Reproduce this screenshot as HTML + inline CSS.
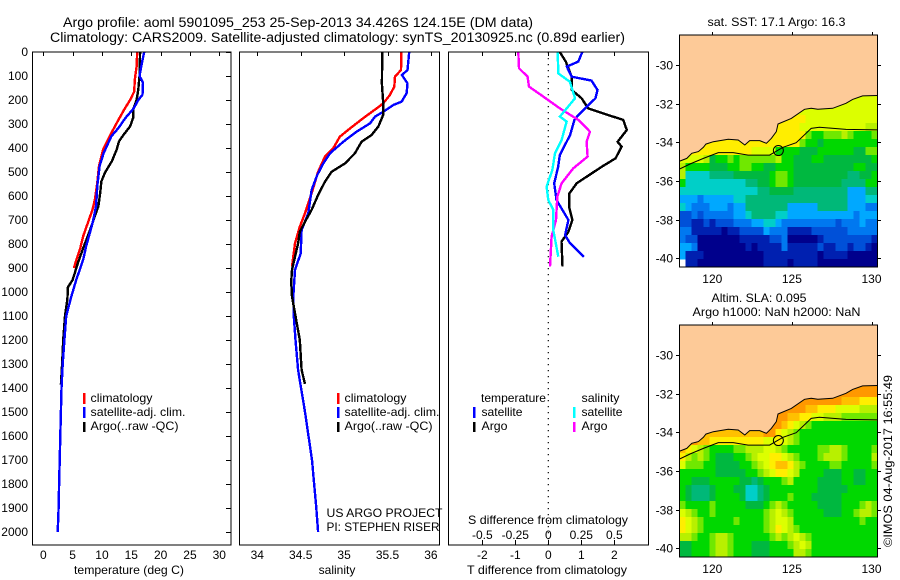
<!DOCTYPE html>
<html lang="en">
<head>
<meta charset="utf-8">
<title>Argo profile 5901095_253</title>
<style>
html,body{margin:0;padding:0;background:#fff;width:900px;height:580px;overflow:hidden}
svg{display:block}
text{font-family:"Liberation Sans",sans-serif;font-size:12px;fill:#000}
.ttl{font-size:13.5px}
</style>
</head>
<body>
<svg id="fig" width="900" height="580" viewBox="0 0 900 580" xmlns="http://www.w3.org/2000/svg">
  <defs>
    <clipPath id="clipTop"><rect x="679.5" y="35" width="198" height="232"/></clipPath>
    <clipPath id="clipBot"><rect x="679.5" y="325" width="198" height="232"/></clipPath>
  </defs>
  <text class="ttl" x="63" y="27" textLength="470" lengthAdjust="spacingAndGlyphs">Argo profile: aoml 5901095_253 25-Sep-2013 34.426S 124.15E (DM data)</text>
  <text class="ttl" x="50" y="42" textLength="575" lengthAdjust="spacingAndGlyphs">Climatology: CARS2009. Satellite-adjusted climatology: synTS_20130925.nc (0.89d earlier)</text>

  <g id="temp"></g>
  <g id="sal"></g>
  <g id="diff"></g>
  <g id="mapA"></g>
  <g id="mapB"></g>

  <rect x="32.5" y="52" width="198.5" height="493" fill="none" stroke="#000" stroke-width="1"/>
  <rect x="239.5" y="52" width="200" height="493" fill="none" stroke="#000" stroke-width="1"/>
  <rect x="448.5" y="52" width="200" height="493" fill="none" stroke="#000" stroke-width="1"/>
  <rect x="679.5" y="35" width="198" height="232" fill="none" stroke="#000" stroke-width="1"/>
  <rect x="679.5" y="325" width="198" height="232" fill="none" stroke="#000" stroke-width="1"/>

  <text x="129" y="574" text-anchor="middle" textLength="110" lengthAdjust="spacingAndGlyphs">temperature (deg C)</text>
  <text x="337" y="574" text-anchor="middle">salinity</text>
  <text x="547" y="574" text-anchor="middle" textLength="160" lengthAdjust="spacingAndGlyphs">T difference from climatology</text>
  <text x="548" y="524" text-anchor="middle" textLength="160" lengthAdjust="spacingAndGlyphs">S difference from climatology</text>

  <g>
    <rect x="83" y="393" width="2.5" height="11" fill="#ff0000"/>
    <rect x="83" y="407" width="2.5" height="11" fill="#0000ff"/>
    <rect x="83" y="422" width="2.5" height="10" fill="#000"/>
    <text x="90.5" y="402" textLength="62" lengthAdjust="spacingAndGlyphs">climatology</text>
    <text x="90.5" y="416" textLength="95" lengthAdjust="spacingAndGlyphs">satellite-adj. clim.</text>
    <text x="90.5" y="430" textLength="88" lengthAdjust="spacingAndGlyphs">Argo(..raw -QC)</text>
  </g>
  <g>
    <rect x="337" y="393" width="2.5" height="11" fill="#ff0000"/>
    <rect x="337" y="407" width="2.5" height="11" fill="#0000ff"/>
    <rect x="337" y="422" width="2.5" height="10" fill="#000"/>
    <text x="344.5" y="402" textLength="62" lengthAdjust="spacingAndGlyphs">climatology</text>
    <text x="344.5" y="416" textLength="95" lengthAdjust="spacingAndGlyphs">satellite-adj. clim.</text>
    <text x="344.5" y="430" textLength="88" lengthAdjust="spacingAndGlyphs">Argo(..raw -QC)</text>
  </g>
  <text x="326.5" y="517" textLength="116" lengthAdjust="spacingAndGlyphs">US ARGO PROJECT</text>
  <text x="326.5" y="531" textLength="113" lengthAdjust="spacingAndGlyphs">PI: STEPHEN RISER</text>
  <g>
    <text x="481" y="402" textLength="65" lengthAdjust="spacingAndGlyphs">temperature</text>
    <text x="581.5" y="402" textLength="38" lengthAdjust="spacingAndGlyphs">salinity</text>
    <rect x="473" y="407" width="2.5" height="11" fill="#0000ff"/>
    <rect x="473" y="422" width="2.5" height="10" fill="#000"/>
    <rect x="573" y="407" width="2.5" height="11" fill="#00ffff"/>
    <rect x="573" y="422" width="2.5" height="10" fill="#ff00ff"/>
    <text x="481.5" y="416" textLength="41" lengthAdjust="spacingAndGlyphs">satellite</text>
    <text x="481.5" y="430" textLength="26" lengthAdjust="spacingAndGlyphs">Argo</text>
    <text x="581.5" y="416" textLength="41" lengthAdjust="spacingAndGlyphs">satellite</text>
    <text x="581.5" y="430" textLength="26" lengthAdjust="spacingAndGlyphs">Argo</text>
  </g>

  <text x="707.5" y="26" textLength="138" lengthAdjust="spacingAndGlyphs">sat. SST: 17.1 Argo: 16.3</text>
  <text x="711.5" y="302" textLength="95" lengthAdjust="spacingAndGlyphs">Altim. SLA: 0.095</text>
  <text x="692.5" y="316" textLength="168" lengthAdjust="spacingAndGlyphs">Argo h1000: NaN h2000: NaN</text>
  <text transform="translate(892,547) rotate(-90)" textLength="172" lengthAdjust="spacingAndGlyphs">©IMOS 04-Aug-2017 16:55:49</text>
</svg>

<script>
/* ---------- profile data (depth in m, value in deg C / psu / differences) ---------- */
var depthTicks = [0,100,200,300,400,500,600,700,800,900,1000,1100,1200,1300,1400,1500,1600,1700,1800,1900,2000];
var tempTicks = [0,5,10,15,20,25,30];
var salTicks = [34,34.5,35,35.5,36];
var tDiffTicks = [-2,-1,0,1,2];
var sDiffTicks = [-0.5,-0.25,0,0.25,0.5];
var sDiffLabels = ['-0.5','-0.25','0','0.25','0.5'];
var latTicks = [-30,-32,-34,-36,-38,-40];
var lonTicks = [120,125,130];

var tempClimDepth = [0,60,115,165,200,235,283,337,406,475,544,614,656,704,767,817,900];
var tempClimValue = [16.0,15.9,15.6,15.5,14.8,13.9,12.8,11.6,10.2,9.5,9.2,8.8,8.4,7.7,6.8,6.3,5.2];
var tempSatDepth = [0,46,100,128,178,200,235,275,317,351,421,475,558,642,712,810,865,950,1025,1100,1200,1300,1400,1500,1600,1700,1800,1900,2000];
var tempSatValue = [17.2,16.8,16.4,17.0,16.9,16.2,15.4,14.0,12.8,11.6,10.3,9.6,9.2,9.0,8.4,7.3,6.8,5.6,4.7,3.9,3.6,3.3,3.1,3.0,2.9,2.8,2.7,2.6,2.45];
var tempArgoDepth = [0,100,157,200,240,275,310,344,372,407,455,503,539,587,642,683,740,817,879,950,980,1030,1100,1200,1300,1385];
var tempArgoValue = [16.5,16.4,16.2,15.9,15.3,15.3,14.8,13.7,12.9,12.5,11.7,10.5,9.9,9.7,9.4,8.8,8.0,6.8,5.9,5.0,4.2,4.1,3.7,3.4,3.2,3.0];

var salClimDepth = [0,75,103,144,179,214,235,276,318,353,401,436,499,589,672,728,797,894];
var salClimValue = [35.66,35.655,35.586,35.578,35.528,35.45,35.375,35.22,35.07,34.95,34.875,34.78,34.70,34.626,34.55,34.49,34.434,34.40];
var salSatDepth = [0,75,96,131,172,207,221,249,269,297,332,374,422,464,513,575,672,742,839,908,1019,1100,1200,1325,1500,1700,1900,2000];
var salSatValue = [35.75,35.73,35.667,35.73,35.72,35.663,35.567,35.45,35.356,35.30,35.144,34.99,34.837,34.76,34.69,34.626,34.587,34.51,34.5,34.434,34.415,34.42,34.44,34.47,34.55,34.63,34.68,34.70];
var salArgoDepth = [0,131,214,262,311,346,374,422,464,499,540,596,658,707,749,797,853,908,957,1019,1100,1200,1325,1383];
var salArgoValue = [35.44,35.436,35.45,35.45,35.394,35.317,35.20,35.125,35.01,34.856,34.78,34.70,34.626,34.55,34.49,34.47,34.434,34.40,34.39,34.40,34.44,34.49,34.51,34.55];

var dtSatDepth = [0,40,61,103,119,158,193,228,263,283,346,429,478,547,617,700,763,797,853];
var dtSatValue = [1.03,0.91,0.56,0.71,1.31,1.49,1.43,1.16,0.91,0.79,0.66,0.35,0.30,0.18,0.25,0.61,0.51,0.66,1.08];
var dtArgoDepth = [0,40,103,158,193,235,263,283,325,374,394,443,478,547,589,651,700,749,790,894];
var dtArgoValue = [0.35,0.53,0.71,0.71,1.01,1.21,1.82,2.27,2.38,2.10,2.22,2.04,1.62,0.86,0.64,0.64,0.73,0.61,0.40,0.43];
var dsArgoDepth = [0,68,103,144,186,235,283,332,374,436,485,547,603,700,769,894];
var dsArgoValue = [-0.227,-0.222,-0.157,-0.146,-0.038,0.088,0.227,0.316,0.290,0.298,0.189,0.101,0.068,0.058,0.025,0.013];
var dsSatDepth = [0,89,124,193,269,290,367,422,492,561,617,658,742,853];
var dsSatValue = [0.071,0.076,0.164,0.202,0.088,0.139,0.101,0.051,0.03,-0.013,0,0.038,0.038,0.076];

/* ---------- map data ---------- */
var coastLon = [117.7,118.4,118.71,119.13,119.44,119.6,120.06,121.0,121.63,122.04,122.35,122.98,123.4,123.71,124.02,124.13,124.96,125.79,126.21,126.63,127.56,128.4,128.81,129.44,130.7];
var coastLat = [-35.05,-34.83,-34.57,-34.48,-34.26,-34.09,-33.97,-33.84,-33.88,-34.14,-33.91,-33.91,-34.05,-33.79,-33.45,-33.05,-32.76,-32.29,-32.24,-32.29,-32.24,-31.98,-31.78,-31.6,-31.57];
var shelfLon = [117.7,118.6,119.44,120.38,121.31,122.25,123.6,124.44,125.27,126.21,126.73,128.4,130.7];
var shelfLat = [-35.48,-35.12,-34.83,-34.53,-34.53,-34.66,-34.66,-34.26,-34.02,-33.28,-33.22,-33.33,-33.36];
var floatLon = [124.15];
var floatLat = [-34.426];

/* level letters index the colour scale; '.' is a missing cell; spaces only group runs */
var colorScale = {'0':'#00008c','1':'#0020b0','2':'#0050d8','3':'#0078f0','4':'#00a8ff','5':'#00cfc8','6':'#00b878','7':'#00b840','8':'#00d800','9':'#70e800','a':'#b8f000','b':'#dcff00','c':'#ffee00','d':'#ffc000','e':'#ff9800'};

var sstRows = [
'bbbbbbbbbbbbbbbbbbbbbbbbbbbbbbbbb','bbbbbbbbbbbbbbbbbbbbbbbbbbbbbbbbb','bbbbbbbbbbbbbbbbbbbbbbbbbbbbbbbbb','bbbbbbbbbbbbbbbbbbbbbbbbbbbbbbbbb',
'bbbbbbbbbbbbbbbbbbbbbbbbbbbbbbbbb','bbbbbbbbbbbbbbbbbbbbbbbbbbbbbbbbb','bbbbbbbbbbbbbbbbbbbbbbbbbbbbbbbbb','bbbbbbbbbbbbbbbbbbbbbbbbbbbbbbbbb',
'bbbbbbbbbbbbbbbbbbbbbbbbbbbbbbbbb','bbbbbbbbbbbbbbbbbbbbbbbbbbbbbbbbb',
'ccccccccccccccccccccc bbbbbbbbbbbb',
'cccccccccccccccccccc bbbbbbbbbbbaa',
'ccccccccccccccccccccc 988999a98889',
'cccccccccccccccccccc 9 887888888888',
'bccccccccccc bb bb 888 8777888888 77 99',
'bbbb a 7 88 9 8 999999 a 88 777 88 77777777 8',
'a 8888 777 88 99 88 77 888 7777777777 88 77',
'a 5555 6666 777777 8 99 8 777777777 66 77 8',
'8 55555 55555 6 6 77 8 99 8 77777777 6666 88',
'5555555555555 66 7777 666666666 444 66',
'444 3 44444 55 66666666666666666 444 55',
'5 4 333 444 3 44 6666666 44444 66666 444 33',
'22 3 2 33333 44 5 6666 55 44444444444 3 444',
'22 11 2 1 222 333 44 55 4 333333333 2 333 4 33',
'33 11111 0 11 2222 4 333 1111 222222 33333',
'3 22 0000000 11111 22 3 00000 1 22222222 1',
'44 3 00000000 1 0 1111 3 11111 2 11 22 1 22 1 0',
'4 111 0000000000 111111111 0 1111 00000',
'. 11 00000000000 1111 0 1111 0000000000'
];

var slaRows = [
'eeeeeeeeeeeeeeeeeeeeeeeeeeeeeeeee','eeeeeeeeeeeeeeeeeeeeeeeeeeeeeeeee','eeeeeeeeeeeeeeeeeeeeeeeeeeeeeeeee','eeeeeeeeeeeeeeeeeeeeeeeeeeeeeeeee',
'eeeeeeeeeeeeeeeeeeeeeeeeeeeeeeeee','eeeeeeeeeeeeeeeeeeeeeeeeeeeeeeeee','eeeeeeeeeeeeeeeeeeeeeeeeeeeeeeeee','eeeeeeeeeeeeeeeeeeeeeeeeeeeeeeeee',
'eeeeeeeeeeeeeeeeeeeeeeeeeeeeeeeee',
'eeeeeeeeeeeeeeeeeeeeeeeeeee ddd ccc',
'eeeeeeeeeeeeeeeeeeeee dd ccc b bbb aaa',
'eeeeeeeeeeeeeeeee e dd cc bb aaa 999999',
'eeeeeeeeeeeeeeeee d c b a 9 88888888888',
'eeee dddddddddd ee c b a 9 8888888888888',
'eee dd ccccccccc bb c b a 9 8888888888888',
'd c b a 9 8888 99 aaa bb a 9 88888 99 aa 9 8888 9',
'c a 9 a 9 8 777 88 9 a bb cc b a 9 888 9 aaa 9 8888 a',
'b 999 88 7777 88 9 a b c dd c a 9 8888 99 88888 9',
'888888 77777 88 9 a b cc b a 8888 777 88 77 88',
'88 777 88888 77 6 7 888 9 a 8888 7777 88 77 88',
'8 7 666 7 888 77 55 6 7 88888888 77777 88888',
'8 7 666 7 8888 7 55 6 7 888 9 888 77777 888888',
'9 8888 9 88888 777 8 9 a 9 88888 7777 888 9 a 9',
'b a 9 88 9 88888888 9 a b a 9 88888 777 88 9 aa 9',
'c b a 9 88888 9 8888 9 a bb a 88888888888 9 88',
'c b a 9 8888888888 9 a c b a 9 8888888888888',
'a a 9 88 9 a a 9 888888 9 a 9 a b a 9 88888888888',
'77 888 9 aa 9 888 777 888 9 a b a 88888888888',
'77 888 9 aa 9 888 777 8888 aa 9 88888888888'
];

/* ---------- axis functions ---------- */
var PROFILE_TOP = 52, PROFILE_SCALE = 0.24;
function depthY(d){ return PROFILE_TOP + d*PROFILE_SCALE; }
function tempX(t){ return 43.3 + t*5.867; }
function salX(s){ return 257.3 + (s-34)*86.8; }
function tDiffX(t){ return 548.3 + t*33; }
function sDiffX(s){ return 548.3 + s*132; }
function lonX(lon){ return 712.3 + (lon-120)*15.92; }
function latY(lat,y30){ return y30 + (-30-lat)*19.33; }

var NS = 'http://www.w3.org/2000/svg';
function make(tag,attrs,parent,txt){
  var n = document.createElementNS(NS,tag);
  for (var k in attrs) n.setAttribute(k,attrs[k]);
  if (txt !== undefined) n.textContent = txt;
  parent.appendChild(n);
  return n;
}
function profile(parent,name,xs,ys,xf,color){
  var pts = [];
  for (var i=0;i<xs.length;i++) pts.push(xf(xs[i]).toFixed(1)+','+depthY(ys[i]).toFixed(1));
  var l = make('polyline',{points:pts.join(' '),fill:'none',stroke:color,'stroke-width':2.4,'stroke-linejoin':'miter','shape-rendering':'crispEdges'},parent);
  
  
}
function tick(parent,x1,y1,x2,y2){
  var t = make('line',{x1:x1,y1:y1,x2:x2,y2:y2,stroke:'#000','stroke-width':1,'shape-rendering':'crispEdges'},parent);
  
  
}
function label(parent,x,y,anchor,s){
  var t = make('text',{x:x,y:y,'text-anchor':anchor},parent,s);
  
  
}

/* temperature panel */
var gT = document.getElementById('temp');
depthTicks.forEach(function(d){
  tick(gT,226,Math.round(depthY(d))+.5,231,Math.round(depthY(d))+.5);
  label(gT,28,depthY(d)+4,'end',String(d));
});
tempTicks.forEach(function(t){
  tick(gT,Math.round(tempX(t))+.5,52,Math.round(tempX(t))+.5,56);
  label(gT,tempX(t),559,'middle',String(t));
});
profile(gT,'temperature-climatology-line',tempClimValue,tempClimDepth,tempX,'#ff0000');
profile(gT,'temperature-argo-line',tempArgoValue,tempArgoDepth,tempX,'#000000');
profile(gT,'temperature-satellite-line',tempSatValue,tempSatDepth,tempX,'#0000ff');

/* salinity panel */
var gS = document.getElementById('sal');
salTicks.forEach(function(s){
  tick(gS,Math.round(salX(s))+.5,52,Math.round(salX(s))+.5,56);
  label(gS,salX(s),559,'middle',String(s));
});
profile(gS,'salinity-climatology-line',salClimValue,salClimDepth,salX,'#ff0000');
profile(gS,'salinity-satellite-line',salSatValue,salSatDepth,salX,'#0000ff');
profile(gS,'salinity-argo-line',salArgoValue,salArgoDepth,salX,'#000000');

/* difference panel */
var gD = document.getElementById('diff');
var zeroLine = make('line',{x1:tDiffX(0),y1:52,x2:tDiffX(0),y2:545,stroke:'#000','stroke-width':1.2,'stroke-dasharray':'1.2 4.8'},gD);


tDiffTicks.forEach(function(t){
  var x = Math.round(tDiffX(t))+.5;
  tick(gD,x,52,x,56);
  tick(gD,x,540,x,545);
  label(gD,tDiffX(t),559,'middle',String(t));
});
sDiffTicks.forEach(function(s,i){
  label(gD,sDiffX(s),539,'middle',sDiffLabels[i]);
});
profile(gD,'t-diff-argo-line',dtArgoValue,dtArgoDepth,tDiffX,'#000000');
profile(gD,'t-diff-satellite-line',dtSatValue,dtSatDepth,tDiffX,'#0000ff');
profile(gD,'s-diff-argo-line',dsArgoValue,dsArgoDepth,sDiffX,'#ff00ff');
profile(gD,'s-diff-satellite-line',dsSatValue,dsSatDepth,sDiffX,'#00ffff');

/* maps */
function drawMap(id,rows,top,y30,clipId){
  var g = document.getElementById(id);
  var bg = make('rect',{x:679.5,y:top,width:198,height:232,fill:'#fff'},g);
  
  
  var CW = 198/33, CH = 232/29;
  rows.forEach(function(raw,r){
    var row = raw.replace(/ /g,'');
    for (var c=0;c<33;c++){
      var ch = row.charAt(c) || row.charAt(row.length-1);
      if (ch === '.') continue;
      var cell = make('rect',{x:679.5+c*CW,y:top+r*CH,width:CW+.3,height:CH+.3,fill:colorScale[ch],'shape-rendering':'crispEdges'},g);
      
      
    }
  });
  var cg = make('g',{'clip-path':'url(#'+clipId+')'},g);
  var landPts = [lonX(coastLon[0]).toFixed(1)+','+(top-5)];
  var coastPts = [];
  for (var i=0;i<coastLon.length;i++){
    var p = lonX(coastLon[i]).toFixed(1)+','+latY(coastLat[i],y30).toFixed(1);
    landPts.push(p); coastPts.push(p);
  }
  landPts.push(lonX(coastLon[coastLon.length-1]).toFixed(1)+','+(top-5));
  var land = make('polygon',{points:landPts.join(' '),fill:'#fdca98'},cg);
  
  
  var cl = make('polyline',{points:coastPts.join(' '),fill:'none',stroke:'#000','stroke-width':1},cg);
  
  
  var sh = [];
  for (var j=0;j<shelfLon.length;j++) sh.push(lonX(shelfLon[j]).toFixed(1)+','+latY(shelfLat[j],y30).toFixed(1));
  var sl = make('polyline',{points:sh.join(' '),fill:'none',stroke:'#000','stroke-width':1},cg);
  
  
  var ring = make('circle',{cx:lonX(floatLon[0]),cy:latY(floatLat[0],y30),r:5,fill:'none',stroke:'#000','stroke-width':1},cg);
  
  
  latTicks.forEach(function(lat){
    var y = Math.round(latY(lat,y30))+.5;
    tick(g,676,y,679.5,y);
    tick(g,877.5,y,881,y);
    label(g,673,y+4,'end',String(lat));
  });
  lonTicks.forEach(function(lon){
    var x = Math.round(lonX(lon))+.5;
    tick(g,x,top-3,x,top);
    label(g,lonX(lon),top+248,'middle',String(lon));
  });
}
drawMap('mapA',sstRows,35,65,'clipTop');
drawMap('mapB',slaRows,325,355,'clipBot');
</script>
</body>
</html>
